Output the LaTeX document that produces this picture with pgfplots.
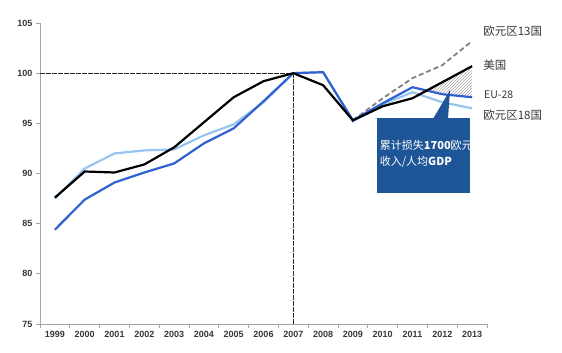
\documentclass[border=0pt]{standalone}
\usepackage{fontspec}
\setmainfont{Liberation Sans}
\newfontfamily\cjk{Noto Sans CJK SC}
\usepackage{pgfplots}
\pgfplotsset{compat=1.18}
\usetikzlibrary{patterns}
\definecolor{eublue}{RGB}{47,98,208}
\definecolor{ezlight}{RGB}{150,197,240}
\definecolor{boxblue}{RGB}{30,85,150}
\definecolor{ezgray}{RGB}{128,128,128}
\definecolor{axgray}{RGB}{165,165,165}
\definecolor{txt}{RGB}{55,55,55}
\begin{document}
\begin{tikzpicture}
\path[use as bounding box] (0,0) rectangle (562pt,353pt);
\begin{axis}[
  at={(40pt,29pt)}, anchor=south west,
  scale only axis, width=447pt, height=301pt,
  xmin=-0.5, xmax=14.5, ymin=75, ymax=105,
  axis x line=bottom, axis y line=left,
  axis line style={-, draw=axgray, line width=0.8pt},
  xtick={0,...,14},
  xticklabels={1999,2000,2001,2002,2003,2004,2005,2006,2007,2008,2009,2010,2011,2012,2013},
  major x tick style={draw=none},
  minor xtick={-0.5,0.5,...,14.5},
  minor tick length=4pt,
  minor x tick style={draw=axgray, line width=0.8pt},
  ytick={75,80,...,105},
  major tick length=4pt,
  y tick style={draw=axgray, line width=0.8pt},
  tick align=outside,
  /pgf/number format/assume math mode=true,
  yticklabel style={font=\bfseries\fontsize{9}{10}\selectfont, text=txt},
  xticklabel style={font=\bfseries\fontsize{9}{10}\selectfont, text=txt},
  clip=false,
]
% reference lines
\draw[black!85, line width=1.3pt, dash pattern=on 5pt off 1pt] (axis cs:-0.5,100) -- (axis cs:8,100);
\draw[black!85, line width=1.3pt, dash pattern=on 5pt off 1pt] (axis cs:8,100) -- (axis cs:8,75);
% hatched gap
\addplot[draw=none, pattern=north east lines, pattern color=gray!70] coordinates {
 (12.48,98.27) (13,99.1) (14,100.7) (14,97.6) (13,97.9) (12.48,98.27)};
% EZ13
\addplot[ezgray, line width=1.8pt, dash pattern=on 5pt off 3pt] coordinates {
 (10,95.3) (11,97.5) (12,99.5) (13,100.8) (14,103.2)};
% EZ18
\addplot[ezlight, line width=2.2pt] coordinates {
 (0,87.5) (1,90.5) (2,92.0) (3,92.3) (4,92.4) (5,93.8) (6,94.9) (7,97.1) (8,100) (9,100.1) (10,95.2) (11,96.9) (12,98.1) (13,97.1) (14,96.5)};
% EU-28
\addplot[eublue, line width=2.2pt] coordinates {
 (0,84.4) (1,87.4) (2,89.1) (3,90.1) (4,91.0) (5,93.0) (6,94.5) (7,97.2) (8,100) (9,100.1) (10,95.3) (11,97.0) (12,98.6) (13,97.9) (14,97.6)};
% US
\addplot[black, line width=2.2pt] coordinates {
 (0,87.6) (1,90.2) (2,90.1) (3,90.9) (4,92.6) (5,95.1) (6,97.6) (7,99.2) (8,100) (9,98.8) (10,95.3) (11,96.7) (12,97.5) (13,99.1) (14,100.7)};
% labels
\node[anchor=west, inner sep=0pt, text=txt, font=\cjk\fontsize{11.5}{12}\selectfont] at (axis cs:14.37,104.18) {欧元区13国};
\node[anchor=west, inner sep=0pt, text=txt, font=\cjk\fontsize{11.5}{12}\selectfont] at (axis cs:14.37,100.8) {美国};
\node[anchor=west, inner sep=0pt, text=txt, font=\cjk\fontsize{10.5}{12}\selectfont] at (axis cs:14.40,97.81) {EU-28};
\node[anchor=west, inner sep=0pt, text=txt, font=\cjk\fontsize{11.5}{12}\selectfont] at (axis cs:14.37,95.82) {欧元区18国};
% callout
\fill[boxblue] (axis cs:10.81,88.06) rectangle (axis cs:13.93,95.52);
\fill[boxblue] (axis cs:12.69,95.45) -- (axis cs:13.26,98.31) -- (axis cs:13.19,95.45) -- cycle;
\coordinate (bA) at (axis cs:10.81,88.06);
\coordinate (bB) at (axis cs:13.93,95.52);
\coordinate (t1) at (axis cs:10.90,92.80);
\coordinate (t2) at (axis cs:10.90,91.20);
\end{axis}
\begin{scope}
\clip (bA) rectangle (bB);
\node[anchor=west, inner sep=0pt, text=white, font=\cjk\fontsize{11}{12}\selectfont] at (t1) {累计损失\textbf{1700}欧元};
\node[anchor=west, inner sep=0pt, text=white, font=\cjk\fontsize{11}{12}\selectfont] at (t2) {收入/人均\textbf{GDP}};
\end{scope}
\end{tikzpicture}
\end{document}
